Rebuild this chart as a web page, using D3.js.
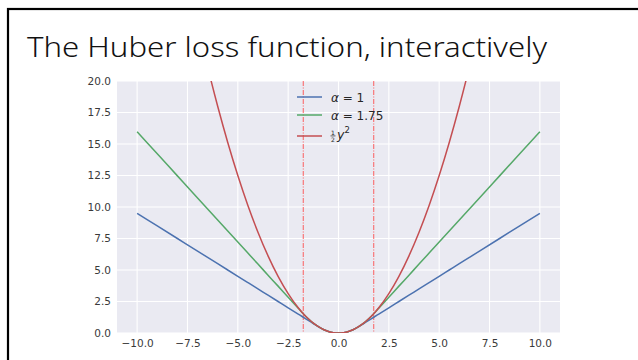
<!DOCTYPE html>
<html>
<head>
<meta charset="utf-8">
<script src="https://cdn.jsdelivr.net/npm/d3@7"></script>
<style>
  html, body { margin: 0; padding: 0; background: #fff; }
  svg { display: block; }
</style>
</head>
<body>
<svg id="chart" width="638" height="360"></svg>
<script>
// Sample positions along the residual axis
const xValues = [-10, -9, -8, -7, -6.5, -6, -5.5, -5, -4.5, -4, -3.5, -3, -2.5, -2, -1.75, -1.5, -1.25, -1, -0.75, -0.5, -0.25,
  0, 0.25, 0.5, 0.75, 1, 1.25, 1.5, 1.75, 2, 2.5, 3, 3.5, 4, 4.5, 5, 5.5, 6, 6.5, 7, 8, 9, 10];

// Huber loss, alpha = 1
const huberAlpha1 = [9.5, 8.5, 7.5, 6.5, 6, 5.5, 5, 4.5, 4, 3.5, 3, 2.5, 2, 1.5, 1.25, 1, 0.75, 0.5, 0.28, 0.125, 0.03,
  0, 0.03, 0.125, 0.28, 0.5, 0.75, 1, 1.25, 1.5, 2, 2.5, 3, 3.5, 4, 4.5, 5, 5.5, 6, 6.5, 7.5, 8.5, 9.5];

// Huber loss, alpha = 1.75
const huberAlpha175 = [15.97, 14.22, 12.47, 10.72, 9.84, 8.97, 8.09, 7.22, 6.34, 5.47, 4.59, 3.72, 2.84, 1.97, 1.53, 1.125, 0.78, 0.5, 0.28, 0.125, 0.03,
  0, 0.03, 0.125, 0.28, 0.5, 0.78, 1.125, 1.53, 1.97, 2.84, 3.72, 4.59, 5.47, 6.34, 7.22, 8.09, 8.97, 9.84, 10.72, 12.47, 14.22, 15.97];

// Squared loss, y^2 / 2
const halfSquare = [50, 40.5, 32, 24.5, 21.125, 18, 15.125, 12.5, 10.125, 8, 6.125, 4.5, 3.125, 2, 1.53, 1.125, 0.78, 0.5, 0.28, 0.125, 0.03,
  0, 0.03, 0.125, 0.28, 0.5, 0.78, 1.125, 1.53, 2, 3.125, 4.5, 6.125, 8, 10.125, 12.5, 15.125, 18, 21.125, 24.5, 32, 40.5, 50];

// Threshold markers at +/- alpha
const thresholds = [-1.75, 1.75];

const xTicks = [-10, -7.5, -5, -2.5, 0, 2.5, 5, 7.5, 10];
const yTicks = [0, 2.5, 5, 7.5, 10, 12.5, 15, 17.5, 20];

const seriesNames = ["alpha1", "alpha175", "half"];
const seriesValues = [huberAlpha1, huberAlpha175, halfSquare];
const seriesColors = ["#4C72B0", "#55A868", "#C44E52"];

const svg = d3.select("#chart");

// slide frame
svg.append("rect")
  .attr("x", 8).attr("y", 9)
  .attr("width", 660).attr("height", 380)
  .attr("fill", "none").attr("stroke", "#000").attr("stroke-width", 2.2);

// slide title
svg.append("text")
  .attr("x", 27).attr("y", 57)
  .attr("font-family", "'Noto Sans', 'Open Sans', sans-serif")
  .attr("font-weight", 300)
  .attr("font-size", 28)
  .attr("fill", "#111")
  .attr("textLength", 520)
  .attr("lengthAdjust", "spacingAndGlyphs")
  .text("The Huber loss function, interactively");

const plot = { left: 117, right: 560, top: 81, bottom: 333 };

const x = d3.scaleLinear().domain([-11, 11]).range([plot.left, plot.right]);
const y = d3.scaleLinear().domain([0, 20]).range([plot.bottom, plot.top]);

svg.append("defs").append("clipPath").attr("id", "plotClip")
  .append("rect")
  .attr("x", plot.left).attr("y", plot.top)
  .attr("width", plot.right - plot.left).attr("height", plot.bottom - plot.top);

// axes background
svg.append("rect")
  .attr("x", plot.left).attr("y", plot.top)
  .attr("width", plot.right - plot.left).attr("height", plot.bottom - plot.top)
  .attr("fill", "#EAEAF2");

// grid lines
const grid = svg.append("g");
grid.selectAll("line.vx").data(xTicks).join("line")
  .attr("x1", d => x(d)).attr("x2", d => x(d))
  .attr("y1", plot.top).attr("y2", plot.bottom)
  .attr("stroke", "#fff").attr("stroke-width", 1.1);
grid.selectAll("line.hy").data(yTicks).join("line")
  .attr("x1", plot.left).attr("x2", plot.right)
  .attr("y1", d => y(d)).attr("y2", d => y(d))
  .attr("stroke", "#fff").attr("stroke-width", 1.1);

// tick labels
const fmt = d => d3.format(".1f")(d).replace("-", "\u2212");
const xAxis = d3.axisBottom(x).tickValues(xTicks).tickFormat(fmt).tickSize(0).tickPadding(7);
const yAxis = d3.axisLeft(y).tickValues(yTicks).tickFormat(fmt).tickSize(0).tickPadding(6);

const gx = svg.append("g").attr("transform", `translate(0,${plot.bottom})`).call(xAxis);
const gy = svg.append("g").attr("transform", `translate(${plot.left},0)`).call(yAxis);
[gx, gy].forEach(g => {
  g.select(".domain").remove();
  g.selectAll("text")
    .attr("font-family", "'DejaVu Sans', sans-serif")
    .attr("font-size", 10.5)
    .attr("fill", "#3a3a3a");
});

const content = svg.append("g").attr("clip-path", "url(#plotClip)");

// threshold markers
content.selectAll("line.thr").data(thresholds).join("line")
  .attr("x1", d => x(d)).attr("x2", d => x(d))
  .attr("y1", plot.top).attr("y2", plot.bottom)
  .attr("stroke", "#ff3b3b").attr("stroke-opacity", 0.8)
  .attr("stroke-width", 1)
  .attr("stroke-dasharray", "5,1.5,1,1.5");

const line = d3.line().curve(d3.curveMonotoneX);

seriesValues.forEach((vals, i) => {
  content.append("path")
    .datum(xValues.map((xv, j) => [x(xv), y(vals[j])]))
    .attr("class", seriesNames[i])
    .attr("d", line)
    .attr("fill", "none")
    .attr("stroke", seriesColors[i])
    .attr("stroke-width", 1.5);
});

// legend
const legendRows = [97, 115, 136];
const legend = svg.append("g");
legendRows.forEach((ly, i) => {
  legend.append("line")
    .attr("x1", 297).attr("x2", 322)
    .attr("y1", ly).attr("y2", ly)
    .attr("stroke", seriesColors[i]).attr("stroke-width", 1.5);
});
const lf = "'DejaVu Sans', sans-serif";
const t1 = legend.append("text").attr("x", 331).attr("y", legendRows[0] + 4.5)
  .attr("font-family", lf).attr("font-size", 12).attr("fill", "#262626");
t1.append("tspan").attr("font-style", "italic").text("\u03b1");
t1.append("tspan").text(" = 1");
const t2 = legend.append("text").attr("x", 331).attr("y", legendRows[1] + 4.5)
  .attr("font-family", lf).attr("font-size", 12).attr("fill", "#262626");
t2.append("tspan").attr("font-style", "italic").text("\u03b1");
t2.append("tspan").text(" = 1.75");

// label ½y²: stacked fraction, then italic y with superscript
const fx = 333, fy = 135.9;
legend.append("text").attr("x", fx).attr("y", 134.9).attr("text-anchor", "middle")
  .attr("font-family", lf).attr("font-size", 6).attr("fill", "#262626").text("1");
legend.append("text").attr("x", fx).attr("y", 141.9).attr("text-anchor", "middle")
  .attr("font-family", lf).attr("font-size", 6).attr("fill", "#262626").text("2");
legend.append("line").attr("x1", fx - 2.5).attr("x2", fx + 2.5)
  .attr("y1", fy).attr("y2", fy).attr("stroke", "#262626").attr("stroke-width", 0.7);
const t3 = legend.append("text").attr("x", fx + 4).attr("y", 138.5)
  .attr("font-family", lf).attr("font-size", 12.5).attr("fill", "#262626");
t3.append("tspan").attr("font-style", "italic").text("y");
t3.append("tspan").attr("font-size", 8.5).attr("dy", -5.5).text("2");
</script>
</body>
</html>
